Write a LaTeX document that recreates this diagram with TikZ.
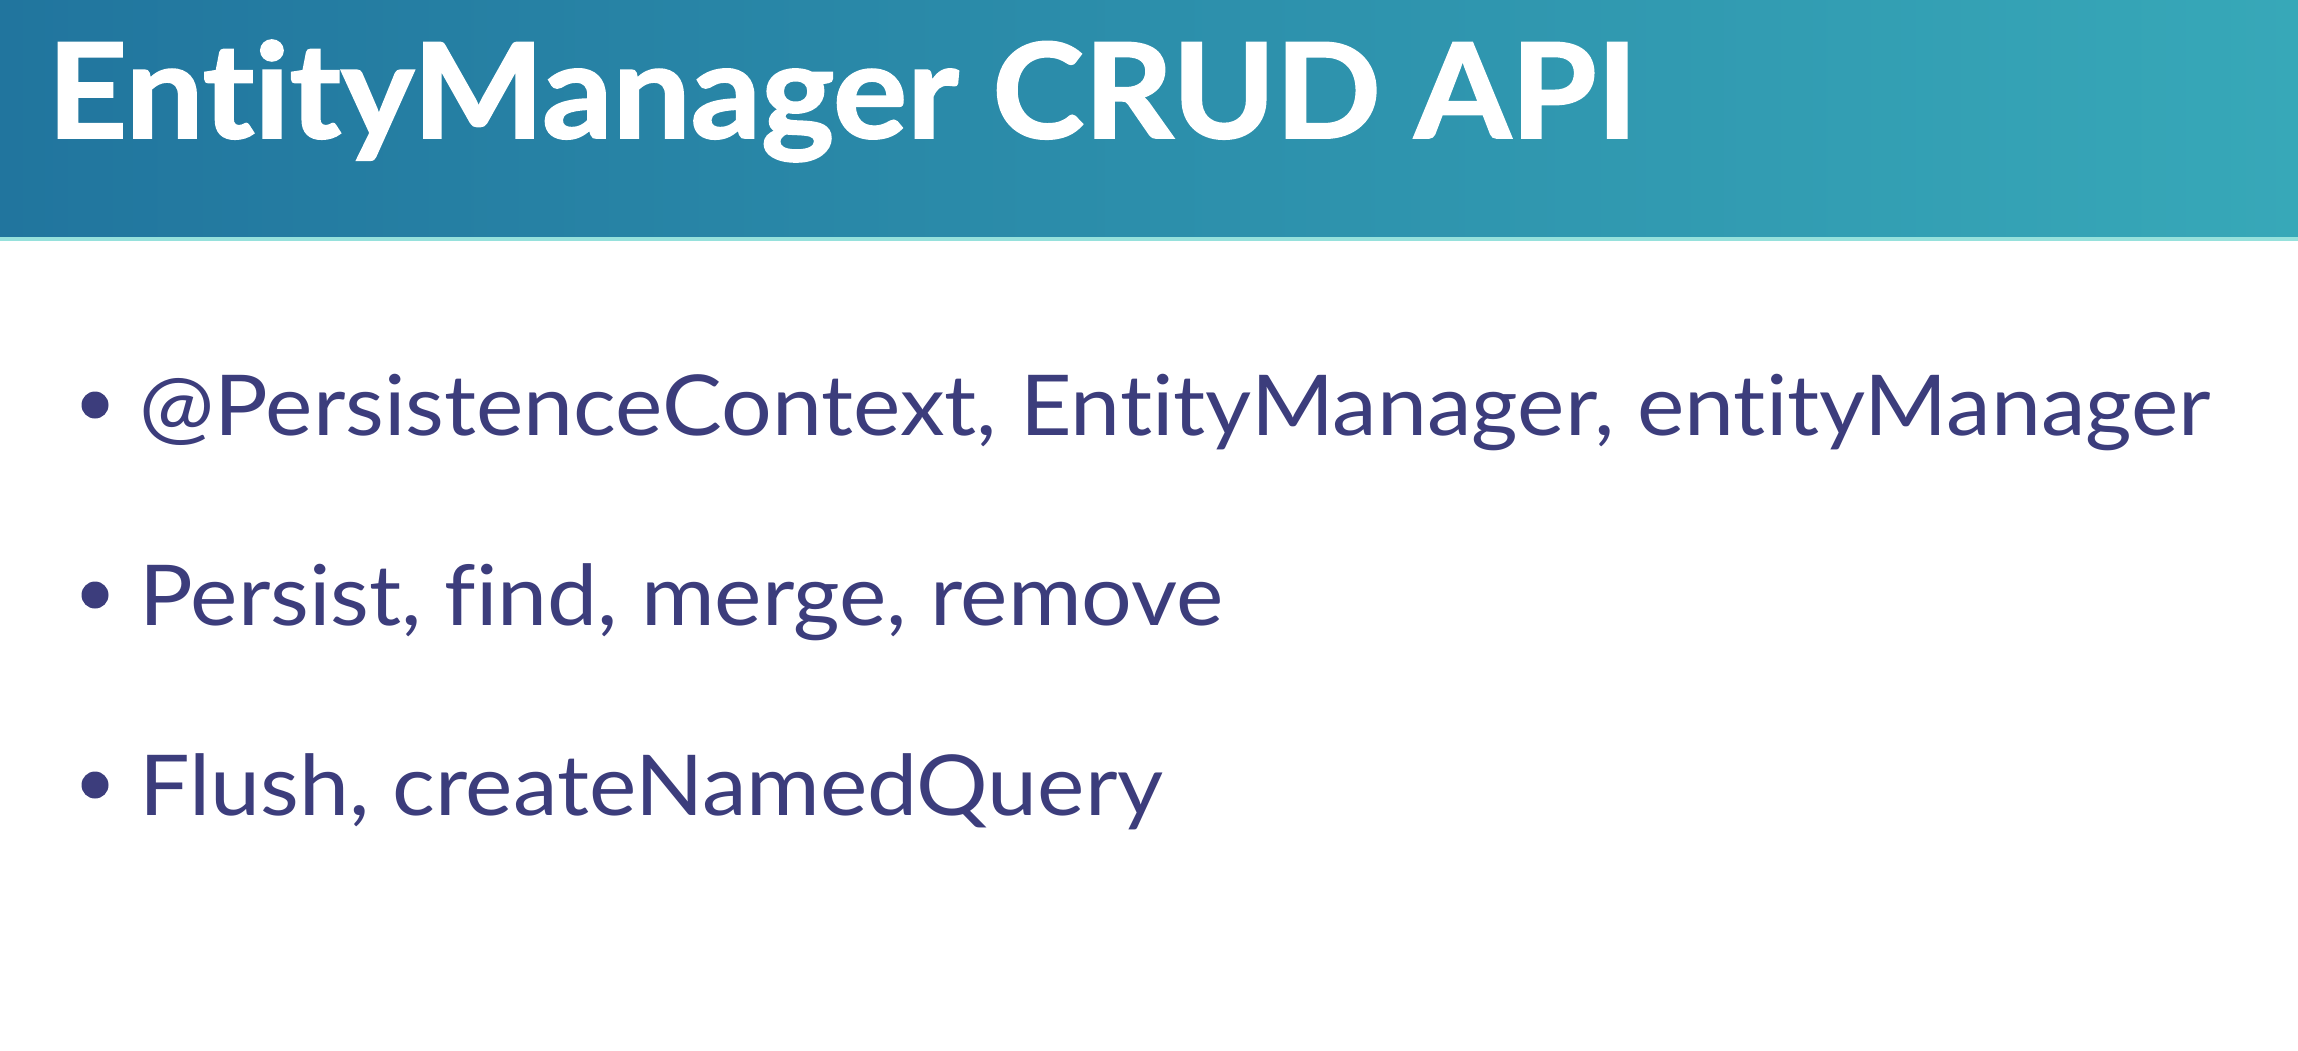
\documentclass[tikz,border=0pt]{standalone}
\usepackage{fontspec}
\setmainfont[Ligatures=NoCommon]{Lato}
\newfontfamily\titlefont[Ligatures=NoCommon,FakeStretch=1.05,FakeBold=1.5]{Lato}
\newfontfamily\bodyfont[Ligatures=NoCommon,FakeStretch=1.066]{Lato}
\definecolor{hdrleft}{RGB}{33,117,158}
\definecolor{hdrright}{RGB}{55,168,184}
\definecolor{hdrline}{RGB}{150,225,220}
\definecolor{bodytext}{RGB}{60,61,124}
\begin{document}
\begin{tikzpicture}[x=0.5pt,y=-0.5pt,
  titletext/.style={anchor=base west,inner sep=0pt,text=white,font=\titlefont\fontsize{66}{70}\selectfont\bfseries},
  itemtext/.style={anchor=base west,inner sep=0pt,text=bodytext,font=\bodyfont\fontsize{42}{46}\selectfont},
  bulletdot/.style={circle,fill=bodytext,inner sep=0pt,minimum size=13.5pt}]
\useasboundingbox (0,0) rectangle (2298,1050);
\fill[white] (0,0) rectangle (2298,1050);
\shade[left color=hdrleft,right color=hdrright] (0,0) rectangle (2298,240);
\fill[hdrline] (0,237) rectangle (2298,241);
\node[titletext] (title) at (47,138) {EntityManager CRUD API};
\node[bulletdot] (b1) at (95,405) {};
\node[itemtext] (t1) at (139,435) {@PersistenceContext, EntityManager, entityManager};
\node[bulletdot] (b2) at (95,595) {};
\node[itemtext] (t2) at (139,625) {Persist, find, merge, remove};
\node[bulletdot] (b3) at (95,785) {};
\node[itemtext] (t3) at (139,815) {Flush, createNamedQuery};
\end{tikzpicture}
\end{document}
